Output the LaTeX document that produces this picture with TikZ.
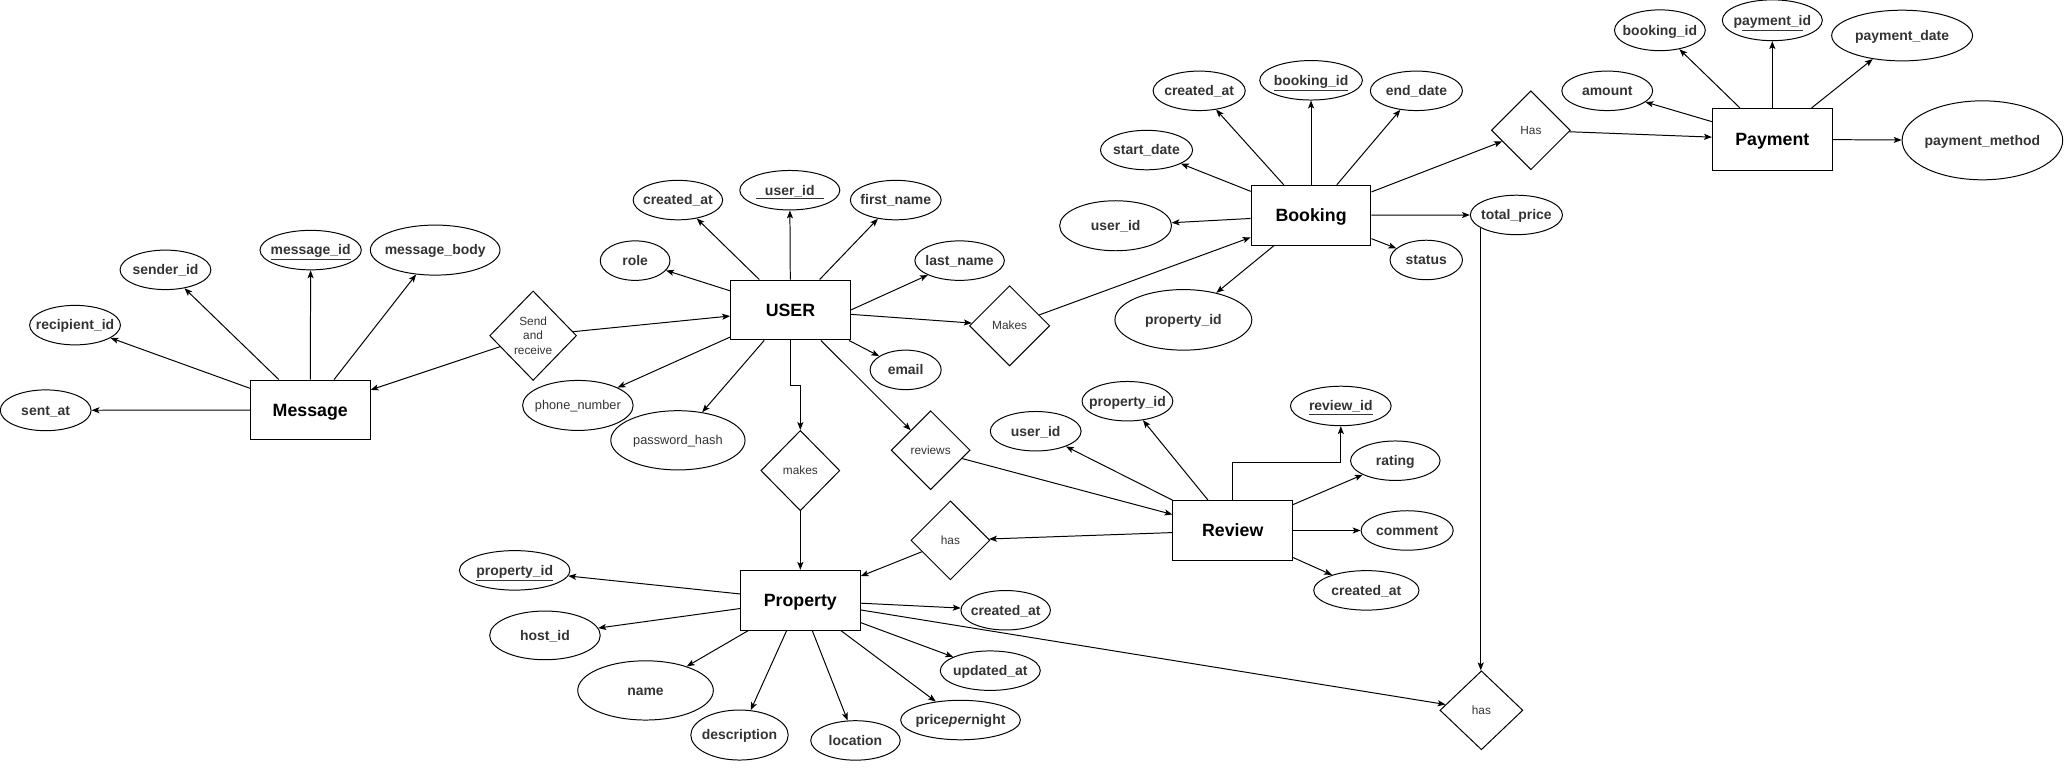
\documentclass[tikz,border=0pt]{standalone}
\usepackage{fontspec}
\setmainfont{Liberation Sans}
\usetikzlibrary{shapes.geometric,arrows.meta,calc}
\definecolor{txt}{HTML}{333333}
\newcommand{\ct}[1]{\makebox[0pt][c]{#1}}
\tikzset{
  entitybox/.style={draw, rectangle, minimum width=91pt, minimum height=45.5pt, inner sep=0pt,
    text height=12.2pt, text depth=2.9pt, font=\fontsize{13.5}{16}\selectfont\bfseries},
  attrell/.style={draw, ellipse, minimum width=68pt, minimum height=30pt, inner sep=0pt,
    text=txt, text height=9.6pt, text depth=2.25pt, font=\fontsize{10.6}{12.7}\selectfont\bfseries},
  plainattr/.style={attrell, text height=8.8pt, text depth=2.05pt, font=\fontsize{9.7}{11.6}\selectfont},
  relshape/.style={draw, diamond, aspect=1, minimum width=60pt, minimum height=60pt, inner sep=0pt,
    text=txt, font=\fontsize{9}{10.9}\selectfont},
  relbox/.style={relshape, text height=8.1pt, text depth=1.9pt},
  conn/.style={-{Stealth[length=6pt,width=4.6pt,inset=1.4pt]}},
}
\begin{document}
\begin{tikzpicture}[x=1pt, y=-1pt, line width=0.75pt]
\useasboundingbox (0,0) rectangle (1568,585);

% ---------- entities ----------
\node[entitybox] (message) at (235.7,311.5) {Message};
\node[entitybox] (user) at (600.5,235.5) {USER};
\node[entitybox] (booking) at (996,163.5) {Booking};
\node[entitybox, minimum height=47pt] (payment) at (1346.4,105.9) {Payment};
\node[entitybox] (property) at (608,456) {Property};
\node[entitybox] (review) at (936.5,403) {Review};

% ---------- relationships ----------
\node[relshape, align=center, minimum width=66pt, minimum height=68pt] (sendrec) at (405,255) {Send\\and\\receive};
\node[relbox, minimum width=61pt, minimum height=61pt] (makesB) at (767,247.5) {Makes};
\node[relbox, minimum height=61pt] (makesP) at (608,357.5) {makes};
\node[relbox] (reviews) at (707,342) {reviews};
\node[relbox] (hasR) at (722,410.5) {has};
\node[relbox, minimum width=63pt] (hasB) at (1125.4,539.6) {has};
\node[relbox] (hasP) at (1163,99) {Has};

% ---------- Message attributes ----------
\node[attrell, minimum width=69pt, minimum height=31pt] (sentat) at (34.7,311.7) {\ct{sent\_at}};
\node[attrell, minimum width=69pt] (recipientid) at (57,247) {\ct{recipient\_id}};
\node[attrell, minimum width=69pt] (senderid) at (125.7,205) {\ct{sender\_id}};
\node[attrell, minimum width=77pt] (messageid) at (236,190) {\ct{\underline{message\_id}}};
\node[attrell, minimum width=98.5pt, minimum height=38pt] (messagebody) at (330.6,190) {\ct{message\_body}};

% ---------- USER attributes ----------
\node[attrell, minimum width=53pt] (role) at (482.5,198) {\ct{role}};
\node[attrell] (ucreated) at (515,152) {\ct{created\_at}};
\node[attrell, minimum width=76pt] (userid) at (600,144.5) {\ct{\underline{\hspace{7pt}user\_id\hspace{7pt}}}};
\node[attrell, minimum width=69pt] (firstname) at (680.5,152) {\ct{first\_name}};
\node[attrell] (lastname) at (729,198) {\ct{last\_name}};
\node[attrell, minimum width=54pt] (email) at (688,281) {\ct{email}};
\node[plainattr, minimum width=84pt, minimum height=38pt] (phone) at (439,308) {\ct{phone\_number}};
\node[plainattr, minimum width=102pt, minimum height=45pt] (password) at (515,334.5) {\ct{password\_hash}};

% ---------- Booking attributes ----------
\node[attrell, minimum width=70pt] (bcreated) at (911,69) {\ct{created\_at}};
\node[attrell, minimum width=78pt] (bookingid) at (996,61) {\ct{\underline{booking\_id}}};
\node[attrell, minimum width=70pt] (enddate) at (1076,69) {\ct{end\_date}};
\node[attrell, minimum width=70pt] (startdate) at (871,114) {\ct{start\_date}};
\node[attrell, minimum width=85pt, minimum height=38pt] (buserid) at (847.5,171.5) {\ct{user\_id}};
\node[attrell, minimum width=104pt, minimum height=46pt] (bpropid) at (899,243) {\ct{property\_id}};
\node[attrell, minimum width=55pt] (status) at (1083.5,197.5) {\ct{status}};
\node[attrell, minimum width=70pt] (totalprice) at (1152,163.3) {\ct{total\_price}};

% ---------- Payment attributes ----------
\node[attrell, minimum width=69pt, minimum height=31pt] (pbookingid) at (1261,23) {\ct{booking\_id}};
\node[attrell, minimum width=76pt, minimum height=31pt] (paymentid) at (1346.4,15.4) {\ct{p\underline{ayment\_i}d}};
\node[attrell, minimum width=107pt, minimum height=38.5pt] (paymentdate) at (1445,27) {\ct{payment\_date}};
\node[attrell, minimum width=69pt] (amount) at (1221,69) {\ct{amount}};
\node[attrell, minimum width=122pt, minimum height=60pt] (paymentmethod) at (1506,106.6) {\ct{payment\_method}};

% ---------- Property attributes ----------
\node[attrell, minimum width=84pt] (ppropid) at (391,433.3) {\ct{\underline{property\_id}}};
\node[attrell, minimum width=84pt, minimum height=37pt] (hostid) at (414,482.7) {\ct{host\_id}};
\node[attrell, minimum width=103pt, minimum height=45pt] (name) at (490.4,524.5) {\ct{name}};
\node[attrell, minimum width=74pt, minimum height=38pt] (description) at (561.8,558.4) {\ct{description}};
\node[attrell] (location) at (649.9,562.5) {\ct{location}};
\node[attrell, minimum width=91pt] (pricepernight) at (729.7,547) {\ct{price\textit{per}night}};
\node[attrell, minimum width=76pt] (updatedat) at (752.3,509.5) {\ct{updated\_at}};
\node[attrell] (pcreated) at (764,463.6) {\ct{created\_at}};

% ---------- Review attributes ----------
\node[attrell, minimum width=69pt] (ruserid) at (786.8,327.6) {\ct{user\_id}};
\node[attrell, minimum width=69pt] (rpropid) at (856.5,304.8) {\ct{property\_id}};
\node[attrell, minimum width=76.5pt] (reviewid) at (1018.6,308.4) {\ct{\underline{review\_id}}};
\node[attrell] (rating) at (1060,350) {\ct{rating}};
\node[attrell, minimum width=70pt] (comment) at (1069,403) {\ct{comment}};
\node[attrell, minimum width=80pt] (rcreated) at (1038,448.5) {\ct{created\_at}};

% ---------- connectors: Message ----------
\draw[conn] (message) -- (sentat);
\draw[conn] (message) -- (recipientid);
\draw[conn] (message) -- (senderid);
\draw[conn] (message) -- (messageid);
\draw[conn] (message) -- (messagebody);
\draw[conn] (sendrec) -- (message);
\draw[conn] (sendrec) -- (user);

% ---------- connectors: USER ----------
\draw[conn] (user) -- (role);
\draw[conn] (user) -- (ucreated);
\draw[conn] (user) -- (userid);
\draw[conn] (user) -- (firstname);
\draw[conn] (user.east) -- (lastname);
\draw[conn] (user) -- (makesB);
\draw[conn] (user) -- (email);
\draw[conn] (user) -- (phone);
\draw[conn] (user) -- (password);
\draw[conn] (user.south) -- ++(0,34.5) -| (makesP.north);
\draw[conn] (user) -- (reviews);
\draw[conn] (makesP) -- (property);
\draw[conn] (reviews) -- (review);
\draw[conn] (makesB) -- (booking);

% ---------- connectors: Review ----------
\draw[conn] (review) -- (hasR);
\draw[conn] (hasR) -- (property);
\draw[conn] (review) -- (ruserid);
\draw[conn] (review) -- (rpropid);
\draw[conn] (review.north) -- ++(0,-28.5) -| (reviewid.south);
\draw[conn] (review) -- (rating);
\draw[conn] (review) -- (comment);
\draw[conn] (review) -- (rcreated);

% ---------- connectors: Booking ----------
\draw[conn] (booking) -- (bcreated);
\draw[conn] (booking) -- (bookingid);
\draw[conn] (booking) -- (enddate);
\draw[conn] (booking) -- (startdate);
\draw[conn] (booking) -- (buserid);
\draw[conn] (booking) -- (bpropid);
\draw[conn] (booking) -- (status);
\draw[conn] (booking) -- (totalprice);
\draw[conn] (booking) -- (hasP);
\draw[conn] (hasP) -- (payment);
\draw[conn] (totalprice.200) -- (totalprice.200 |- hasB.north);

% ---------- connectors: Payment ----------
\draw[conn] (payment) -- (pbookingid);
\draw[conn] (payment) -- (paymentid);
\draw[conn] (payment) -- (paymentdate);
\draw[conn] (payment) -- (amount);
\draw[conn] (payment) -- (paymentmethod);

% ---------- connectors: Property ----------
\draw[conn] (property) -- (ppropid);
\draw[conn] (property) -- (hostid);
\draw[conn] (property) -- (name);
\draw[conn] (property) -- (description);
\draw[conn] (property) -- (location);
\draw[conn] (property) -- (pricepernight);
\draw[conn] (property) -- (updatedat);
\draw[conn] (property) -- (pcreated);
\draw[conn] (property) -- (hasB);
\end{tikzpicture}
\end{document}
